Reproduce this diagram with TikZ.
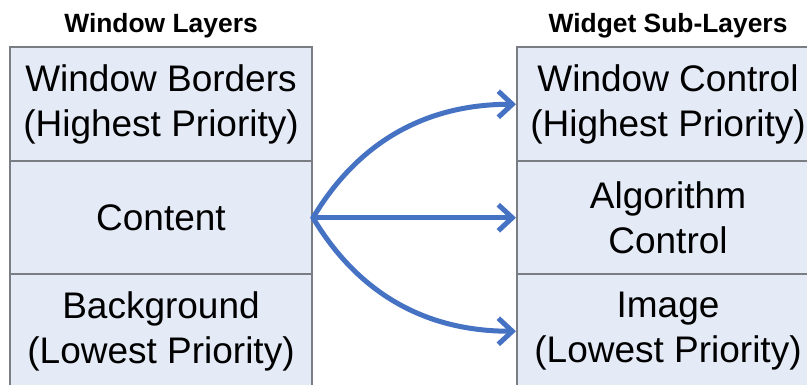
\documentclass[tikz,border=0pt]{standalone}
\usepackage{fontspec}
\setmainfont{Liberation Sans}
\usetikzlibrary{arrows.meta}
\definecolor{layerfill}{RGB}{228,234,246}
\definecolor{layerline}{RGB}{122,126,132}
\definecolor{linkblue}{RGB}{70,114,196}
\tikzset{
  layer/.style={draw=layerline, line width=2pt, fill=layerfill,
    minimum width=302pt, minimum height=113.5pt, inner sep=0pt,
    align=center, font=\fontsize{37}{45}\selectfont},
  heading/.style={anchor=base, font=\fontsize{26.4}{30}\selectfont\bfseries},
  link/.style={draw=linkblue, line width=5pt, line cap=round, line join=round,
    -{Straight Barb[length=14pt,width=26pt]}}
}
\begin{document}
\begin{tikzpicture}[x=1pt,y=-1pt]
\useasboundingbox (0,0) rectangle (807,385);
\clip (0,0) rectangle (807,385);
% column headings
\node[heading] (tl) at (161,33) {Window Layers};
\node[heading] (tr) at (668,33) {Widget Sub-Layers};
% window layers
\node[layer] (wb) at (161,104.25) {Window Borders\\(Highest Priority)};
\node[layer] (ct) at (161,217.75) {Content};
\node[layer] (bg) at (161,331.25) {Background\\(Lowest Priority)};
% widget sub-layers
\node[layer] (wc) at (668,104.25) {Window Control\\(Highest Priority)};
\node[layer] (ac) at (668,217.75) {Algorithm\\Control};
\node[layer] (im) at (668,331.25) {Image\\(Lowest Priority)};
% connections from the content layer
\draw[link] (ct.east) .. controls +(40,-67) and +(-100,0) .. (wc.west);
\draw[link] (ct.east) -- (ac.west);
\draw[link] (ct.east) .. controls +(40,67) and +(-100,0) .. (im.west);
\end{tikzpicture}
\end{document}
